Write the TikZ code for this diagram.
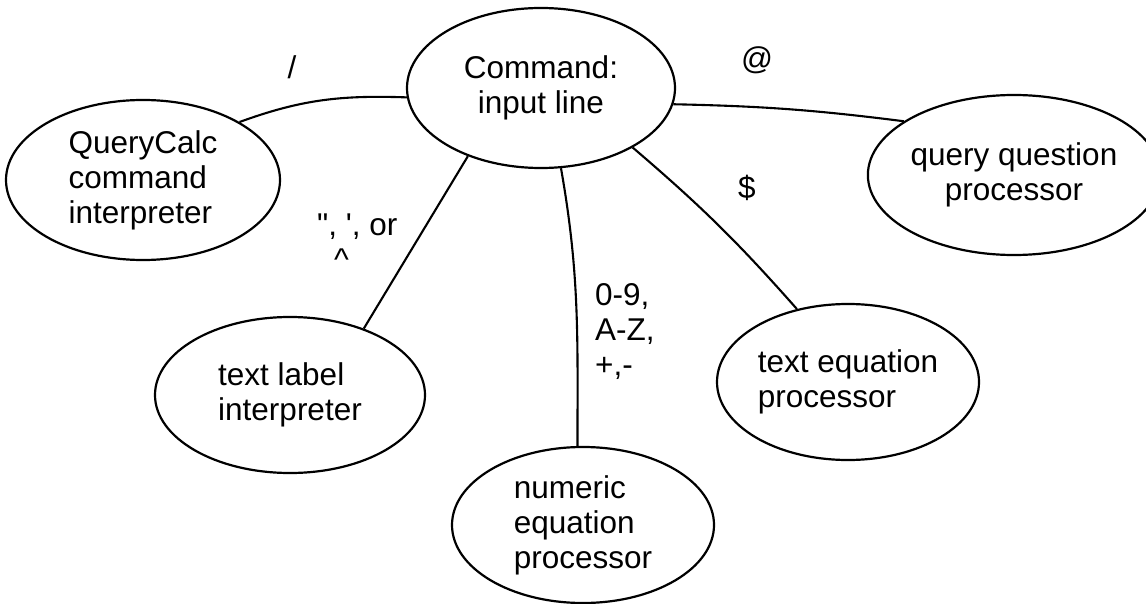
\documentclass[tikz,border=0pt]{standalone}
\usepackage{fontspec}
\setmainfont{Liberation Sans}
\usetikzlibrary{shapes.geometric}
\begin{document}
\begin{tikzpicture}[x=1pt,y=-1pt,
  ell/.style={draw, ellipse, line width=2.2pt, inner sep=0pt, font=\fontsize{31.5}{35}\selectfont},
  conn/.style={line width=2.1pt},
  lbl/.style={font=\fontsize{31.5}{35}\selectfont, inner sep=0pt}]
\path[use as bounding box] (0,0) rectangle (1146,604);
\node[ell, minimum width=268, minimum height=160, align=center] (cmd) at (541,88) {Command:\\input line};
\node[ell, minimum width=274, minimum height=160, align=left] (qc) at (143,180) {QueryCalc\\command\\interpreter};
\node[ell, minimum width=260, minimum height=160, align=center] (qq) at (1014,175) {query question\\processor};
\node[ell, minimum width=270, minimum height=156, align=left] (tl) at (290,395) {text label\\interpreter};
\node[ell, minimum width=262, minimum height=156, align=left] (num) at (583,525) {numeric\\equation\\processor};
\node[ell, minimum width=262, minimum height=156, align=left] (te) at (848,382) {text equation\\processor};
\draw[conn] (cmd.184) to[out=178, in=20] (qc.31);
\draw[conn] (cmd.353) to[bend left=3] (qq.154);
\draw[conn] (cmd.223) -- (tl.42);
\draw[conn] (cmd.284) to[out=-80, in=90] (num.94);
\draw[conn] (cmd.327) to[bend left=4] (te.125);
\node[lbl] (lslash) at (292,67) {/};
\node[lbl] (lat) at (757,60) {@};
\node[lbl] (ldol) at (747,188) {\$};
\node[lbl, align=left, anchor=north west] (lquote) at (317,214) {\textquotedbl, \textquotesingle, or\\\hspace{17pt}\textasciicircum};
\node[lbl, align=left, anchor=north west] (lnum) at (595,283) {0-9,\\A-Z,\\+,-};
\end{tikzpicture}
\end{document}
